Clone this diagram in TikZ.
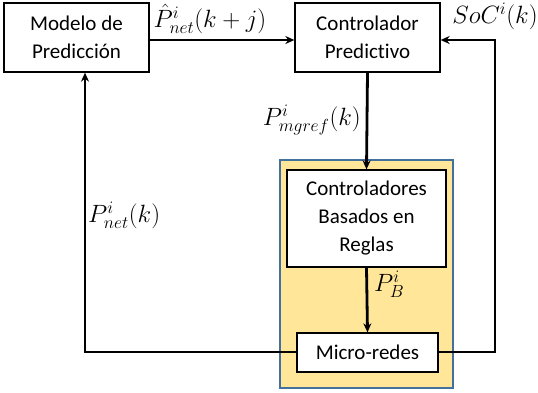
\RequirePackage{fix-cm}
\documentclass[tikz,border=0pt]{standalone}
\usepackage{fontspec}
\setmainfont[Ligatures={NoCommon}]{Carlito}
\usetikzlibrary{arrows.meta}
\definecolor{panelfill}{HTML}{FFE699}
\definecolor{panelline}{HTML}{41719C}
\begin{document}
\begin{tikzpicture}[x=1pt,y=-1pt,
  blk/.style={draw=black,line width=1.3pt,fill=white,align=center,inner sep=0pt,
    font=\fontsize{21}{28}\selectfont},
  flow/.style={line width=2.8pt,-{Stealth[length=9pt,width=8pt]}},
  lbl/.style={font=\fontsize{25}{27}\selectfont,inner sep=0pt}]
\useasboundingbox (0,0) rectangle (538,392);
% shaded panel around the local control loop
\draw[panelline,fill=panelfill,line width=1.3pt] (280,160) rectangle (453,388);
% blocks
\node[blk,minimum width=145pt,minimum height=69pt] (mod) at (76.5,37.5) {Modelo de\\Predicción};
\node[blk,minimum width=145pt,minimum height=69pt] (mpc) at (367.5,37.5) {Controlador\\Predictivo};
\node[blk,minimum width=159pt,minimum height=97pt] (rbc) at (366.5,218.5) {Controladores\\Basados en\\Reglas};
\node[blk,minimum width=141pt,minimum height=39pt] (mg) at (367.5,352.5) {Micro-redes};
% connectors
\draw[flow] (mod.east |- 0,40) -- (mpc.west |- 0,40);
\draw[flow] (mpc.south) -- (rbc.north);
\draw[flow] (rbc.south) -- (mg.north);
\coordinate (rturn) at (495,352);
\coordinate (rtop) at (495,40);
\draw[flow] (mg.east |- rturn) -- (rturn) -- (rtop) -- (mpc.east |- rtop);
\coordinate (lturn) at (85,352);
\draw[flow] (mg.west |- lturn) -- (lturn) -- (mod.south -| lturn);
% signal labels
\node[lbl,anchor=center] (lp) at (210,19) {$\hat{P}^{i}_{net}(k+j)$};
\node[lbl,anchor=center] (ls) at (495,16) {$SoC^{i}(k)$};
\node[lbl,anchor=east] (lm) at (361,120) {$P^{i}_{mgref}(k)$};
\node[lbl,anchor=west] (ln) at (88,215) {$P^{i}_{net}(k)$};
\node[lbl,anchor=west] (lb) at (374,284) {$P^{i}_{B}$};
\end{tikzpicture}
\end{document}
